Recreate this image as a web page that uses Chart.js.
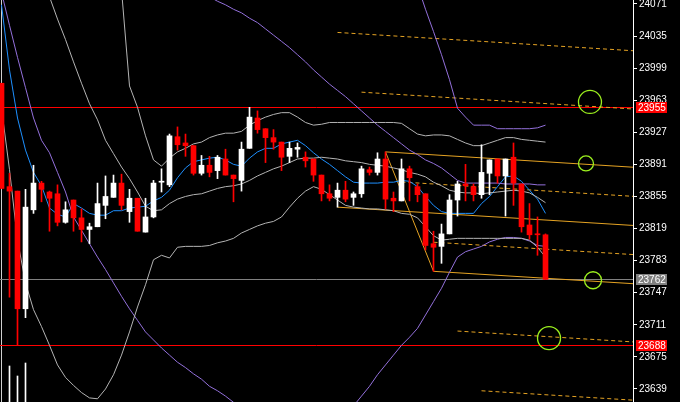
<!DOCTYPE html>
<html><head><meta charset="utf-8">
<script src="https://cdn.jsdelivr.net/npm/chart.js@4.4.1/dist/chart.umd.min.js"></script>
<style>html,body{margin:0;padding:0;background:#000;overflow:hidden}canvas{display:block;background:#000}</style>
</head><body>
<canvas id="c" width="680" height="402"></canvas>
<script>
// ---------- data ----------
const opens  = [23982,23866,23861,23729,23840,23870,23860,23858,23826,23851,23831,23818,23821,23845,23854,23870,23838,23853,23815,23832,23871,23868,23922,23915,23912,23881,23890,23884,23897,23879,23873,23909,23943,23931,23921,23916,23900,23908,23899,23897,23879,23858,23854,23862,23854,23858,23885,23882,23897,23853,23850,23886,23866,23858,23802,23799,23813,23851,23869,23866,23857,23881,23897,23878,23899,23869,23823,23813,23812];
const highs  = [23982,23881,23861,23863,23890,23872,23861,23868,23849,23851,23841,23825,23870,23878,23879,23880,23863,23853,23853,23873,23886,23925,23933,23925,23912,23901,23900,23901,23908,23879,23916,23955,23951,23931,23930,23916,23916,23915,23905,23897,23879,23868,23870,23872,23860,23889,23888,23904,23905,23860,23897,23889,23869,23858,23816,23824,23857,23872,23891,23869,23913,23896,23897,23897,23915,23869,23847,23832,23813];
const lows   = [23864,23742,23688,23719,23836,23849,23816,23822,23825,23816,23804,23802,23821,23830,23854,23840,23826,23816,23815,23831,23860,23866,23907,23900,23879,23879,23877,23875,23879,23849,23861,23909,23926,23893,23908,23884,23893,23899,23888,23872,23850,23850,23843,23849,23845,23854,23879,23879,23841,23838,23850,23850,23849,23795,23771,23780,23813,23833,23850,23850,23853,23857,23870,23833,23845,23815,23807,23789,23762];
const closes = [23864,23861,23729,23843,23870,23863,23853,23826,23840,23831,23818,23821,23847,23855,23870,23845,23853,23816,23832,23870,23872,23923,23913,23912,23881,23890,23882,23899,23879,23875,23908,23944,23930,23921,23916,23899,23909,23910,23895,23879,23858,23853,23862,23852,23858,23886,23882,23897,23852,23850,23886,23876,23857,23800,23798,23813,23851,23869,23867,23857,23882,23896,23878,23897,23870,23821,23812,23812,23762];

const maFast = [24070,23997,23943,23907,23882,23867,23842,23835,23832,23847,23842,23836,23834,23834,23839,23839,23842,23843,23844,23850,23854,23862,23876,23887,23894,23896,23898,23899,23896,23891,23889,23898,23905,23909,23909,23914,23916,23918,23912,23904,23897,23891,23884,23877,23871,23870,23870,23870,23871,23871,23873,23872,23866,23855,23845,23838,23836,23836,23836,23836,23847,23855,23866,23877,23878,23872,23862,23852,23836];

const bandUpper = [null,null,null,null,null,null,null,null,null,null,null,null,null,null,null,24087,23979,23955,23923,23896,23889,23898,23905,23909,23914,23916,23921,23924,23926,23926,23928,23935,23940,23944,23947,23949,23949,23944,23938,23935,23936,23938,23938,23938,23938,23938,23938,23938,23938,23938,23937,23931,23925,23923,23924,23924,23923,23919,23915,23912,23912,23915,23918,23921,23921,23919,23918,23917,23916];
const bandMiddle = [null,null,null,null,null,null,24079,24054,24031,24006,23982,23959,23941,23918,23903,23888,23875,23860,23844,23839,23840,23847,23852,23855,23857,23858,23861,23864,23866,23867,23869,23873,23878,23882,23886,23889,23893,23897,23898,23898,23899,23898,23897,23895,23894,23893,23891,23890,23889,23887,23885,23882,23880,23877,23871,23867,23862,23860,23859,23859,23858,23859,23860,23861,23862,23861,23859,23854,23848];
const bandLower = [23954,23885,23806,23758,23728,23709,23688,23666,23652,23643,23635,23629,23628,23639,23655,23677,23703,23731,23756,23784,23789,23786,23798,23799,23799,23799,23800,23803,23805,23808,23814,23818,23822,23825,23827,23832,23843,23853,23861,23866,23863,23857,23851,23845,23843,23842,23841,23841,23840,23839,23836,23835,23831,23821,23811,23806,23807,23808,23808,23808,23808,23808,23808,23808,23808,23808,23806,23798,23787];

const slowUpper = [null,null,null,null,null,null,null,null,null,null,null,null,null,null,null,null,null,null,null,null,null,null,null,null,null,null,null,null,null,null,null,null,null,null,null,null,null,null,null,null,null,null,null,null,null,null,null,null,null,null,null,null,24092,24065,24040,24014,23986,23954,23944,23935,23935,23935,23931,23931,23931,23931,23931,23932,23935];
const slowMiddle = [null,null,null,null,null,null,null,null,null,null,null,null,null,null,null,null,null,null,null,null,null,null,null,null,null,null,24079,24074,24070,24065,24061,24055,24050,24043,24036,24029,24022,24014,24006,23997,23989,23981,23974,23967,23959,23951,23943,23935,23928,23921,23914,23907,23902,23896,23892,23887,23880,23873,23870,23870,23870,23870,23870,23869,23869,23869,23869,23868,23868];
const slowLower = [24084,24047,24011,23977,23943,23918,23904,23882,23860,23832,23817,23802,23787,23773,23758,23743,23729,23716,23703,23694,23685,23677,23669,23663,23656,23650,23642,23637,23631,23624,23619,null,null,null,null,null,null,null,null,null,null,null,null,null,23620,23631,23642,23655,23666,23677,23688,23697,23707,23722,23737,23752,23770,23787,23793,23796,23799,23804,23807,23809,23809,23808,23805,23800,23799];

const tickValues = [23639,23675,23711,23747,23783,23819,23855,23891,23927,23963,23999,24035,24071];
const priceMin = 23624.4, priceMax = 24075.4;

const markLines = [23955, 23688];          // horizontal lines with red axis labels
const bidPrice = closes[closes.length - 1]; // current price line
const separatorBar = 0;

const pitchforkBars = [42, 48, 54];        // A (low), B (high), C (low)
const forkLevels = [3, 2, 0.5, -0.5, -2, -3];
const forkLevelStart = [42, 45, 50, 54, 57, 60];
const lastBar = 79;

const circleBars = [73.56, 73.06, 73.94, 68.44];
const circlePrices = [23961, 23892, 23761, 23696];

const volumeBars = [1, 2, 3];
const volumes = [360, 260, 390];

// ---------- styles ----------
const BULL = '#ffffff', BEAR = '#ff0000';
const GREY = '#b4b4b4', BLUE = '#1e90ff', PURPLE = '#9370db', ORANGE = '#e5a323', GREEN = '#9cf01e';
const circleRadius = [11.5, 7.5, 8.5, 11.5];

// ---------- build ----------
const idx = opens.map((_, i) => i);
const candleColors = idx.map(i => closes[i] >= opens[i] ? BULL : BEAR);
const pts = arr => arr.map((v, i) => ({x: i, y: v}));
const lineDs = (arr, color) => ({type: 'line', data: pts(arr), borderColor: color, borderWidth: 1, pointRadius: 0, fill: false, tension: 0, order: 3});

const [aBar, bBar, cBar] = pitchforkBars;
const aP = lows[aBar], bP = highs[bBar], cP = lows[cBar];
const mBar = (bBar + cBar) / 2, mP = (bP + cP) / 2;
const slope = (mP - aP) / (mBar - aBar);
const median = x => aP + slope * (x - aBar);
const tine = bP - median(bBar);
const seg = (x0, y0, x1, y1, dash) => ({type: 'line', data: [{x: x0, y: y0}, {x: x1, y: y1}], borderColor: ORANGE, borderWidth: 1, borderDash: dash || [], pointRadius: 0, fill: false, order: 4});

const datasets = [
  {type: 'bar', data: idx.map(i => ({x: i, y: [lows[i], highs[i]]})), backgroundColor: candleColors, barThickness: 1, order: 2},
  {type: 'bar', data: idx.map(i => ({x: i, y: [opens[i], closes[i]]})), backgroundColor: candleColors, barThickness: 5, minBarLength: 1, order: 1},
  {type: 'bar', yAxisID: 'yv', data: volumeBars.map((b, k) => ({x: b, y: volumes[k]})), backgroundColor: BULL, barThickness: 1, order: 2},
  lineDs(bandUpper, GREY), lineDs(bandMiddle, GREY), lineDs(bandLower, GREY),
  lineDs(slowUpper, PURPLE), lineDs(slowMiddle, PURPLE), lineDs(slowLower, PURPLE),
  lineDs(maFast, BLUE),
  seg(aBar, aP, lastBar, median(lastBar)),
  seg(bBar, bP, lastBar, median(lastBar) + tine),
  seg(cBar, cP, lastBar, median(lastBar) - tine),
  seg(bBar, bP, cBar, cP),
  ...forkLevels.map((k, j) => seg(forkLevelStart[j], median(forkLevelStart[j]) + k * tine, lastBar, median(lastBar) + k * tine, [4, 3])),
  {type: 'line', showLine: false, data: circleBars.map((b, k) => ({x: b, y: circlePrices[k]})), pointRadius: circleRadius, pointBorderColor: GREEN, pointBackgroundColor: 'rgba(0,0,0,0)', pointBorderWidth: 1.3, order: 0}
];

const overlay = {
  id: 'overlay',
  beforeDatasetsDraw(chart) {
    const {ctx, chartArea: a, scales: {x, y}} = chart;
    ctx.save();
    ctx.lineWidth = 1;
    const sx = Math.floor(x.getPixelForValue(separatorBar)) + 0.5;
    ctx.strokeStyle = '#d0d0d0';
    ctx.beginPath(); ctx.moveTo(sx, a.top); ctx.lineTo(sx, a.bottom); ctx.stroke();
    const hl = (v, c) => { const py = Math.round(y.getPixelForValue(v)) + 0.5; ctx.strokeStyle = c; ctx.beginPath(); ctx.moveTo(a.left, py); ctx.lineTo(a.right, py); ctx.stroke(); };
    markLines.forEach(v => hl(v, '#ff0000'));
    hl(bidPrice, '#808080');
    ctx.restore();
  },
  afterDraw(chart) {
    const {ctx, chartArea: a, scales: {y}} = chart;
    ctx.save();
    const box = (v, bg) => {
      const py = Math.round(y.getPixelForValue(v));
      ctx.fillStyle = bg; ctx.fillRect(a.right + 3, py - 5, 31, 11);
      ctx.fillStyle = '#ffffff'; ctx.font = '10px "Liberation Sans", Arial, sans-serif';
      ctx.textBaseline = 'middle'; ctx.textAlign = 'left';
      ctx.fillText(String(v), a.right + 5, py + 1);
    };
    markLines.forEach(v => box(v, '#ff0000'));
    box(bidPrice, '#808080');
    ctx.restore();
  }
};

new Chart(document.getElementById('c'), {
  type: 'bar',
  data: {datasets},
  options: {
    responsive: false, animation: false, devicePixelRatio: 1,
    layout: {padding: 0, autoPadding: false},
    datasets: {bar: {grouped: false, borderWidth: 0}},
    plugins: {legend: {display: false}, tooltip: {enabled: false}},
    scales: {
      x: {type: 'linear', min: -0.1875, max: 78.9375, offset: false, display: false, grid: {display: false}},
      y: {
        type: 'linear', position: 'right', min: priceMin, max: priceMax,
        afterBuildTicks: s => { s.ticks = tickValues.map(v => ({value: v})); },
        afterFit: s => { s.width = 47; s.paddingTop = 0; s.paddingBottom = 0; },
        ticks: {color: '#ffffff', autoSkip: false, padding: 2, font: {family: '"Liberation Sans", Arial, sans-serif', size: 10}, callback: v => String(v)},
        grid: {drawOnChartArea: false, drawTicks: true, tickLength: 4, tickColor: '#ffffff'},
        border: {display: true, color: '#ffffff', width: 1}
      },
      yv: {type: 'linear', display: false, min: 0, max: 4020}
    }
  },
  plugins: [overlay]
});
</script>
</body></html>
